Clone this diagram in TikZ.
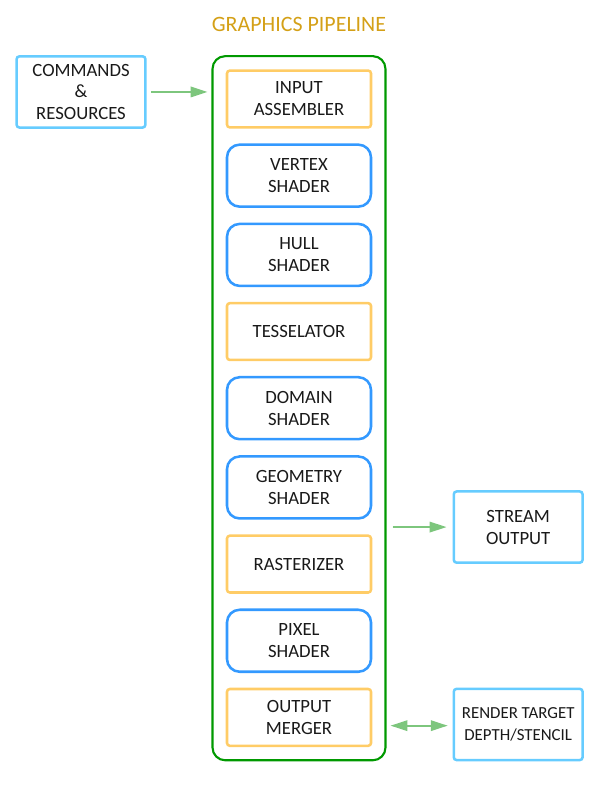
\documentclass[tikz,border=0pt]{standalone}
\usepackage{fontspec}
\setmainfont{Carlito}
\usetikzlibrary{positioning, arrows.meta, fit, calc}

\definecolor{stageorange}{RGB}{255,204,102}
\definecolor{stageblue}{RGB}{51,153,255}
\definecolor{ioblue}{RGB}{102,204,255}
\definecolor{pipegreen}{RGB}{0,153,0}
\definecolor{arrowgreen}{RGB}{125,198,125}
\definecolor{titlegold}{RGB}{212,160,23}

\begin{document}
\begin{tikzpicture}[
    node distance=0.368cm and 1.65cm,
    fixed/.style={draw=stageorange, line width=1.8pt, rounded corners=2pt, minimum width=3.6cm, minimum height=1.42cm, align=center},
    programmable/.style={draw=stageblue, line width=1.8pt, rounded corners=9pt, minimum width=3.6cm, minimum height=1.55cm, align=center},
    resource/.style={draw=ioblue, line width=1.8pt, rounded corners=2pt, minimum width=3.22cm, minimum height=1.78cm, align=center},
    flow/.style={-{Triangle[length=0.42cm, width=0.26cm]}, draw=arrowgreen, fill=arrowgreen, line width=1.4pt},
    every node/.style={font=\fontsize{13.3}{15.6}\selectfont, text=black!90}
]

\useasboundingbox (0,0) rectangle (15,-20);

% Pipeline stages
\node[fixed] (ia) at (7.475,-2.475) {INPUT\\ASSEMBLER};
\node[programmable, below=of ia] (vs) {VERTEX\\SHADER};
\node[programmable, below=of vs] (hs) {HULL\\SHADER};
\node[fixed, below=of hs] (tess) {TESSELATOR};
\node[programmable, below=of tess] (ds) {DOMAIN\\SHADER};
\node[programmable, below=of ds] (gs) {GEOMETRY\\SHADER};
\node[fixed, below=of gs] (rast) {RASTERIZER};
\node[programmable, below=of rast] (ps) {PIXEL\\SHADER};
\node[fixed, below=of ps] (om) {OUTPUT\\MERGER};

% Container and title
\node[draw=pipegreen, line width=1.5pt, rounded corners=9pt, inner sep=0.33cm, fit=(ia)(om)] (pipeline) {};
\node[above=0.45cm of pipeline, font=\fontsize{15.6}{18}\selectfont, text=titlegold] (title) {GRAPHICS PIPELINE};

% Resources around the pipeline
\node[resource, below left=0cm and 1.62cm of pipeline.north west] (cmds) {COMMANDS\\\&\\RESOURCES};
\coordinate (somid) at ($(gs.south)!0.5!(rast.north)$);
\coordinate (sopin) at (somid -| pipeline.east);
\node[resource, right=1.65cm of sopin] (so) {STREAM\\OUTPUT};
\node[resource, above right=0cm and 1.65cm of pipeline.south east, font=\fontsize{12}{15.6}\selectfont] (rt) {RENDER TARGET\\DEPTH/STENCIL};

% Connectors
\draw[flow, shorten <=0.12cm, shorten >=0.1cm] (cmds.east) -- (cmds.east -| pipeline.west);
\draw[flow, shorten <=0.15cm, shorten >=0.15cm] (sopin) -- (so.west);
\draw[flow, {Triangle[length=0.42cm, width=0.26cm]}-{Triangle[length=0.42cm, width=0.26cm]}, shorten <=0.1cm, shorten >=0.12cm] ([yshift=-0.03cm]rt.west -| pipeline.east) -- ([yshift=-0.03cm]rt.west);

\end{tikzpicture}
\end{document}
